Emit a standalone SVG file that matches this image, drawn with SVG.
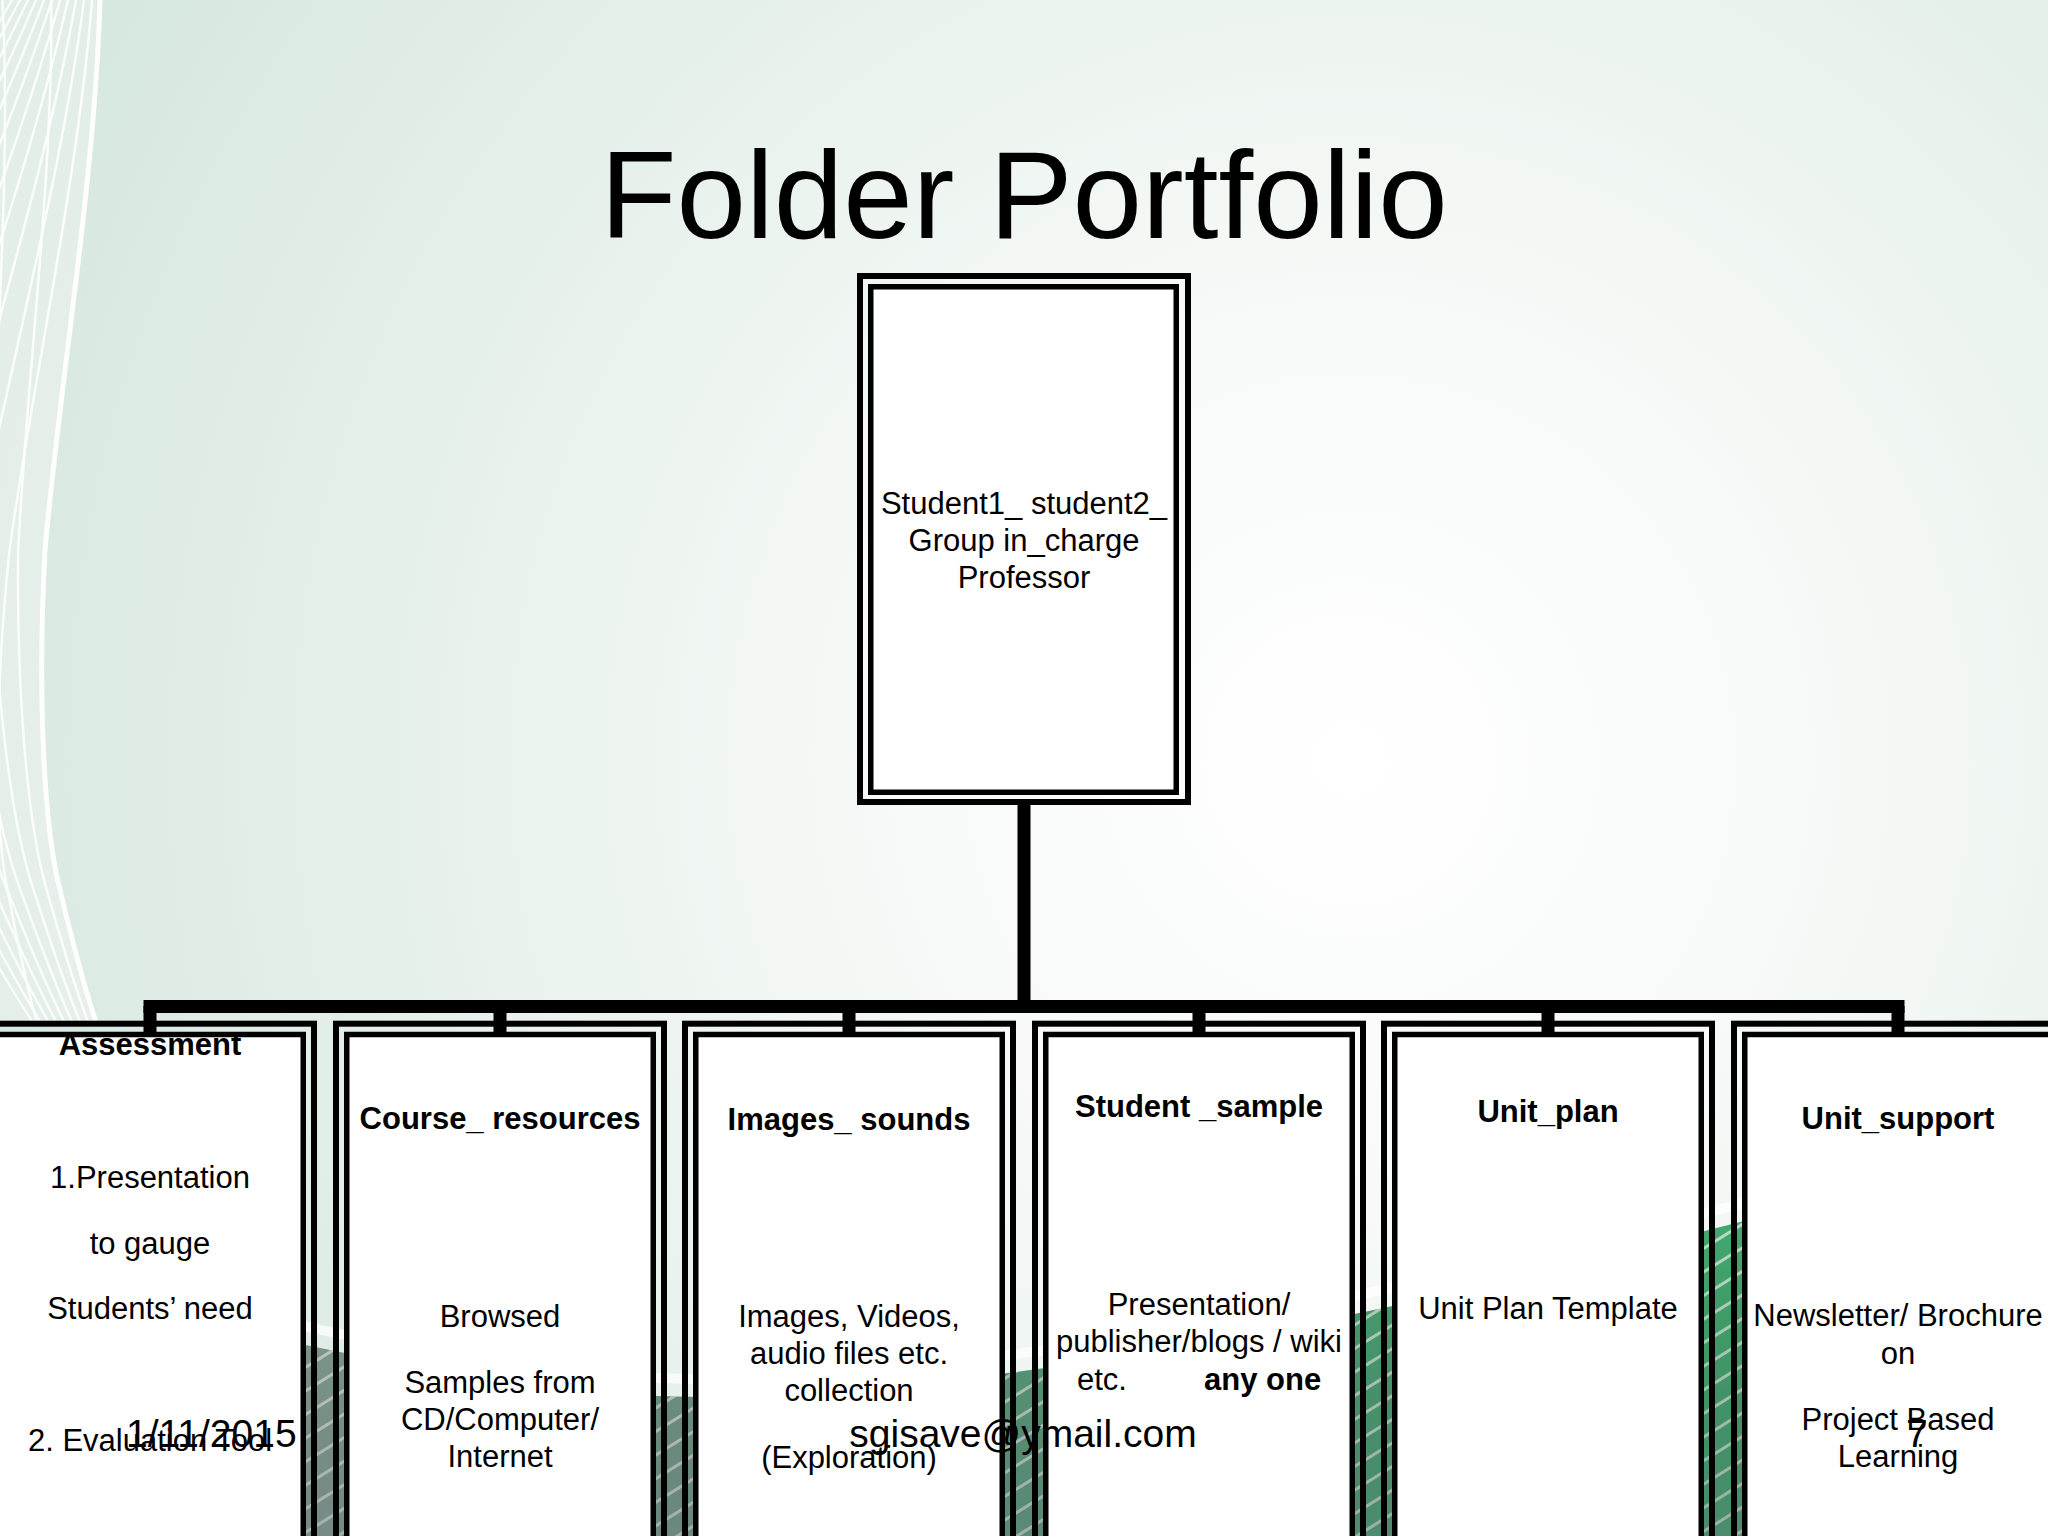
<svg xmlns="http://www.w3.org/2000/svg" width="2048" height="1536" viewBox="0 0 2048 1536">
<defs>
<radialGradient id="bg" cx="1350" cy="760" r="1450" gradientUnits="userSpaceOnUse">
<stop offset="0" stop-color="#ffffff"/>
<stop offset="0.3" stop-color="#f7faf8"/>
<stop offset="0.75" stop-color="#e2eee8"/>
<stop offset="1" stop-color="#d6e8df"/>
</radialGradient>
<linearGradient id="green" x1="0" y1="0" x2="2048" y2="0" gradientUnits="userSpaceOnUse">
<stop offset="0" stop-color="#98aea2"/>
<stop offset="0.3" stop-color="#7da48f"/>
<stop offset="0.6" stop-color="#4fa777"/>
<stop offset="1" stop-color="#3eb06e"/>
</linearGradient>
<linearGradient id="shade" x1="0" y1="1200" x2="0" y2="1536" gradientUnits="userSpaceOnUse">
<stop offset="0" stop-color="#000" stop-opacity="0"/>
<stop offset="1" stop-color="#556" stop-opacity="0.35"/>
</linearGradient>
<pattern id="stripes" width="20" height="20" patternUnits="userSpaceOnUse" patternTransform="rotate(-32)">
<rect x="0" y="0" width="20" height="3" fill="#ffffff" fill-opacity="0.65"/>
</pattern>
<path id="edge" d="M100 0 C95 180 60 380 45 550 C38 680 42 820 60 890 C72 940 85 990 97 1025"/>
<clipPath id="waveclip">
<path d="M0 0 H102 C97 180 62 380 47 550 C40 680 44 820 62 890 C74 940 87 990 99 1025 H0 Z"/>
</clipPath>
<style>
.t{font-family:"Liberation Sans",Arial,Helvetica,sans-serif;font-size:31px;fill:#000;text-anchor:middle}
.b{font-weight:bold}
.s{text-anchor:start}
.f{font-family:"Liberation Sans",Arial,Helvetica,sans-serif;font-size:39px;fill:#000}
.title{font-family:"Liberation Sans",Arial,Helvetica,sans-serif;font-size:125px;fill:#000;text-anchor:middle}
.outer{fill:none;stroke:#000;stroke-width:6}
.inner{fill:none;stroke:#000;stroke-width:5.5}
.paper{fill:#ffffff}
.conn{fill:none;stroke:#000;stroke-width:13;stroke-linecap:butt}
.wave{fill:none;stroke:#ffffff;stroke-width:2.5;stroke-opacity:0.85}
</style>
</defs>

<!-- background -->
<rect x="0" y="0" width="2048" height="1536" fill="url(#bg)"/>
<g clip-path="url(#waveclip)">
<rect x="0" y="0" width="110" height="1030" fill="#eef2f0" fill-opacity="0.55"/>
<g class="wave">
<use href="#edge" transform="matrix(1,0,-0.05,1,-8,0)"/>
<use href="#edge" transform="matrix(1,0,-0.1,1,-16,0)"/>
<use href="#edge" transform="matrix(1,0,-0.15,1,-24,0)"/>
<use href="#edge" transform="matrix(1,0,-0.2,1,-32,0)"/>
<use href="#edge" transform="matrix(1,0,-0.25,1,-40,0)"/>
<use href="#edge" transform="matrix(1,0,-0.3,1,-48,0)"/>
<use href="#edge" transform="matrix(1,0,-0.35,1,-56,0)"/>
<use href="#edge" transform="matrix(1,0,-0.4,1,-64,0)"/>
<use href="#edge" transform="matrix(1,0,-0.45,1,-72,0)"/>
<use href="#edge" transform="matrix(1,0,-0.5,1,-80,0)"/>
<use href="#edge" transform="matrix(1,0,-0.55,1,-88,0)"/>
<use href="#edge" transform="matrix(1,0,0.04,1,-48.8,0)"/>
<use href="#edge" transform="matrix(1,0,0.08,1,-97.6,0)"/>
<use href="#edge" transform="matrix(1,0,0.12,1,-146.4,0)"/>
<use href="#edge" transform="matrix(1,0,0.16,1,-195.2,0)"/>
<use href="#edge" transform="matrix(1,0,0.2,1,-244,0)"/>
<use href="#edge" transform="matrix(1,0,0.24,1,-292.8,0)"/>
<use href="#edge" transform="matrix(1,0,0.28,1,-341.6,0)"/>
<use href="#edge" transform="matrix(1,0,0.32,1,-390.4,0)"/>
</g>
</g>
<use href="#edge" fill="none" stroke="#ffffff" stroke-width="5" stroke-opacity="0.9"/>

<path d="M0 1536 L0 1290 C250 1320 450 1395 700 1397 C1000 1390 1300 1330 1550 1270 C1750 1220 1900 1180 2048 1150 L2048 1536 Z" fill="url(#green)"/>
<path d="M0 1536 L0 1290 C250 1320 450 1395 700 1397 C1000 1390 1300 1330 1550 1270 C1750 1220 1900 1180 2048 1150 L2048 1536 Z" fill="url(#stripes)"/>
<path d="M0 1536 L0 1290 C250 1320 450 1395 700 1397 C1000 1390 1300 1330 1550 1270 C1750 1220 1900 1180 2048 1150 L2048 1536 Z" fill="url(#shade)"/>
<path d="M0 1272 C250 1302 450 1377 700 1379 C1000 1372 1300 1312 1550 1252 C1750 1202 1900 1162 2048 1132" fill="none" stroke="#ffffff" stroke-width="10" stroke-opacity="0.7"/>

<!-- title -->
<text class="title" x="1024" y="238">Folder Portfolio</text>

<!-- connectors -->
<g id="connectors">
<path class="conn" d="M1024 803 V1006.5"/>
<path class="conn" d="M143.5 1006.5 H1904.5"/>
<path class="conn" d="M150 1006 V1034 M500 1006 V1034 M849 1006 V1034 M1199 1006 V1034 M1548 1006 V1034 M1898 1006 V1034"/>
</g>

<!-- root node -->
<g id="node-root">
<rect class="paper" x="870.75" y="286.75" width="305.5" height="505.5"/>
<rect class="outer" x="860" y="276" width="328" height="526"/>
<rect class="inner" x="870.75" y="286.75" width="305.5" height="505.5"/>
<text class="t" x="1024" y="514">Student1_ student2_</text>
<text class="t" x="1024" y="551">Group in_charge</text>
<text class="t" x="1024" y="588">Professor</text>
</g>

<!-- child nodes -->
<g id="node-assessment">
<rect class="paper" x="-3.25" y="1034.5" width="306.5" height="600"/>
<text class="t b" x="150" y="1055">Assessment</text>
<text class="t" x="150" y="1188">1.Presentation</text>
<text class="t" x="150" y="1254">to gauge</text>
<text class="t" x="150" y="1319">Students’ need</text>
<text class="t" x="150" y="1451">2. Evaluation Tool</text>
<rect class="outer" x="-14" y="1023.7" width="328" height="600"/>
<rect class="inner" x="-3.25" y="1034.5" width="306.5" height="600"/>
</g>

<g id="node-course-resources">
<rect class="paper" x="346.75" y="1034.5" width="306.5" height="600"/>
<rect class="outer" x="336" y="1023.7" width="328" height="600"/>
<rect class="inner" x="346.75" y="1034.5" width="306.5" height="600"/>
<text class="t b" x="500" y="1129">Course_ resources</text>
<text class="t" x="500" y="1327">Browsed</text>
<text class="t" x="500" y="1393">Samples from</text>
<text class="t" x="500" y="1430">CD/Computer/</text>
<text class="t" x="500" y="1467">Internet</text>
</g>

<g id="node-images-sounds">
<rect class="paper" x="695.75" y="1034.5" width="306.5" height="600"/>
<rect class="outer" x="685" y="1023.7" width="328" height="600"/>
<rect class="inner" x="695.75" y="1034.5" width="306.5" height="600"/>
<text class="t b" x="849" y="1130">Images_ sounds</text>
<text class="t" x="849" y="1327">Images, Videos,</text>
<text class="t" x="849" y="1364">audio files etc.</text>
<text class="t" x="849" y="1401">collection</text>
<text class="t" x="849" y="1468">(Exploration)</text>
</g>

<g id="node-student-sample">
<rect class="paper" x="1045.75" y="1034.5" width="306.5" height="600"/>
<rect class="outer" x="1035" y="1023.7" width="328" height="600"/>
<rect class="inner" x="1045.75" y="1034.5" width="306.5" height="600"/>
<text class="t b" x="1199" y="1117">Student _sample</text>
<text class="t" x="1199" y="1315">Presentation/</text>
<text class="t" x="1199" y="1352">publisher/blogs / wiki</text>
<text class="t s" x="1077" y="1390">etc.</text>
<text class="t b s" x="1204" y="1390">any one</text>
</g>

<g id="node-unit-plan">
<rect class="paper" x="1394.75" y="1034.5" width="306.5" height="600"/>
<rect class="outer" x="1384" y="1023.7" width="328" height="600"/>
<rect class="inner" x="1394.75" y="1034.5" width="306.5" height="600"/>
<text class="t b" x="1548" y="1122">Unit_plan</text>
<text class="t" x="1548" y="1319">Unit Plan Template</text>
</g>

<g id="node-unit-support">
<rect class="paper" x="1744.75" y="1034.5" width="306.5" height="600"/>
<rect class="outer" x="1734" y="1023.7" width="328" height="600"/>
<rect class="inner" x="1744.75" y="1034.5" width="306.5" height="600"/>
<text class="t b" x="1898" y="1129">Unit_support</text>
<text class="t" x="1898" y="1326">Newsletter/ Brochure</text>
<text class="t" x="1898" y="1364">on</text>
<text class="t" x="1898" y="1430">Project Based</text>
<text class="t" x="1898" y="1467">Learning</text>
</g>

<!-- footer -->
<g id="footer">
<text class="f" x="126" y="1447">1/11/2015</text>
<text class="f" x="1023" y="1447" text-anchor="middle">sgisave@ymail.com</text>
<text class="f" x="1906" y="1447">7</text>
</g>
</svg>
